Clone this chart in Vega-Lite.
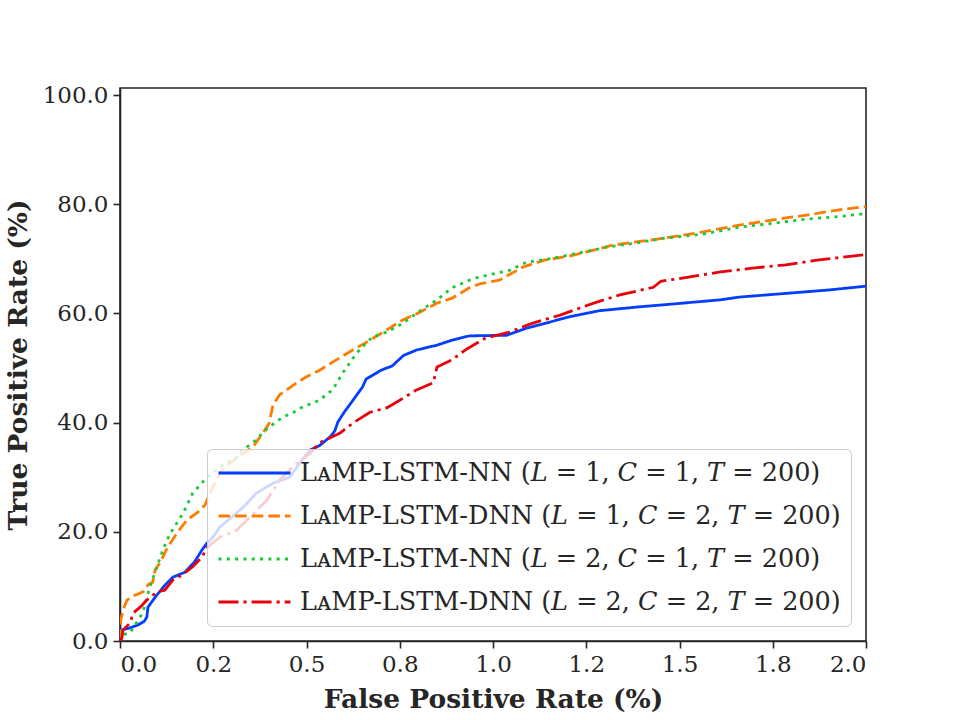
{
  "$schema": "https://vega.github.io/schema/vega-lite/v6.json",
  "width": 746,
  "height": 553,
  "autosize": {"type": "none"},
  "padding": {"left": 120, "top": 88, "right": 94, "bottom": 79},
  "background": "white",
  "config": {
    "font": "DejaVu Serif",
    "view": {"stroke": "#262626", "strokeWidth": 1.6},
    "axis": {
      "grid": false,
      "domainColor": "#262626",
      "domainWidth": 1.6,
      "tickColor": "#262626",
      "tickWidth": 1.6,
      "tickSize": 7,
      "labelFont": "DejaVu Serif",
      "labelFontSize": 23,
      "labelColor": "#262626",
      "labelPadding": 5,
      "titleFont": "DejaVu Serif",
      "titleFontSize": 26.5,
      "titleFontWeight": "bold",
      "titleColor": "#262626"
    },
    "legend": {
      "orient": "bottom-right",
      "offset": 15,
      "fillColor": "rgba(255,255,255,0.8)",
      "strokeColor": "#cccccc",
      "cornerRadius": 5,
      "padding": 10,
      "symbolType": "stroke",
      "symbolSize": 5184,
      "symbolStrokeWidth": 2.8,
      "clipHeight": 28,
      "labelFont": "DejaVu Serif",
      "labelFontSize": 25.5,
      "labelColor": "#262626",
      "labelOffset": 8,
      "labelLimit": 0,
      "rowPadding": 15
    }
  },
  "data": {
    "values": [
      {"model": "A", "fpr": 0, "tpr": 0},
      {"model": "A", "fpr": 0.003, "tpr": 2.0},
      {"model": "A", "fpr": 0.027, "tpr": 2.4},
      {"model": "A", "fpr": 0.05, "tpr": 3.0},
      {"model": "A", "fpr": 0.065, "tpr": 3.6},
      {"model": "A", "fpr": 0.072, "tpr": 4.4},
      {"model": "A", "fpr": 0.075, "tpr": 6.2},
      {"model": "A", "fpr": 0.094, "tpr": 8.0},
      {"model": "A", "fpr": 0.12, "tpr": 10.2},
      {"model": "A", "fpr": 0.142, "tpr": 11.7},
      {"model": "A", "fpr": 0.174, "tpr": 12.6},
      {"model": "A", "fpr": 0.2, "tpr": 14.5},
      {"model": "A", "fpr": 0.22, "tpr": 16.7},
      {"model": "A", "fpr": 0.233, "tpr": 17.9},
      {"model": "A", "fpr": 0.249, "tpr": 19.0},
      {"model": "A", "fpr": 0.268, "tpr": 20.9},
      {"model": "A", "fpr": 0.3, "tpr": 22.7},
      {"model": "A", "fpr": 0.33, "tpr": 24.5},
      {"model": "A", "fpr": 0.366, "tpr": 27.1},
      {"model": "A", "fpr": 0.41, "tpr": 28.9},
      {"model": "A", "fpr": 0.455, "tpr": 30.0},
      {"model": "A", "fpr": 0.482, "tpr": 32.6},
      {"model": "A", "fpr": 0.51, "tpr": 35.0},
      {"model": "A", "fpr": 0.535, "tpr": 35.8},
      {"model": "A", "fpr": 0.565, "tpr": 37.5},
      {"model": "A", "fpr": 0.576, "tpr": 38.5},
      {"model": "A", "fpr": 0.584, "tpr": 40.1},
      {"model": "A", "fpr": 0.6, "tpr": 41.8},
      {"model": "A", "fpr": 0.65, "tpr": 46.5},
      {"model": "A", "fpr": 0.66, "tpr": 48.0},
      {"model": "A", "fpr": 0.7, "tpr": 49.6},
      {"model": "A", "fpr": 0.73, "tpr": 50.4},
      {"model": "A", "fpr": 0.76, "tpr": 52.3},
      {"model": "A", "fpr": 0.795, "tpr": 53.3},
      {"model": "A", "fpr": 0.85, "tpr": 54.2},
      {"model": "A", "fpr": 0.89, "tpr": 55.1},
      {"model": "A", "fpr": 0.937, "tpr": 55.9},
      {"model": "A", "fpr": 1.036, "tpr": 56.0},
      {"model": "A", "fpr": 1.09, "tpr": 57.3},
      {"model": "A", "fpr": 1.14, "tpr": 58.2},
      {"model": "A", "fpr": 1.205, "tpr": 59.4},
      {"model": "A", "fpr": 1.285, "tpr": 60.5},
      {"model": "A", "fpr": 1.39, "tpr": 61.2},
      {"model": "A", "fpr": 1.46, "tpr": 61.6},
      {"model": "A", "fpr": 1.61, "tpr": 62.5},
      {"model": "A", "fpr": 1.66, "tpr": 63.0},
      {"model": "A", "fpr": 1.79, "tpr": 63.7},
      {"model": "A", "fpr": 1.9, "tpr": 64.3},
      {"model": "A", "fpr": 2.0, "tpr": 65.0},

      {"model": "B", "fpr": 0, "tpr": 0},
      {"model": "B", "fpr": 0.002, "tpr": 3.8},
      {"model": "B", "fpr": 0.008, "tpr": 5.7},
      {"model": "B", "fpr": 0.019, "tpr": 7.5},
      {"model": "B", "fpr": 0.04, "tpr": 8.4},
      {"model": "B", "fpr": 0.062, "tpr": 9.0},
      {"model": "B", "fpr": 0.075, "tpr": 10.3},
      {"model": "B", "fpr": 0.088, "tpr": 10.8},
      {"model": "B", "fpr": 0.094, "tpr": 13.0},
      {"model": "B", "fpr": 0.107, "tpr": 14.3},
      {"model": "B", "fpr": 0.128, "tpr": 17.2},
      {"model": "B", "fpr": 0.153, "tpr": 19.8},
      {"model": "B", "fpr": 0.18, "tpr": 22.2},
      {"model": "B", "fpr": 0.209, "tpr": 23.6},
      {"model": "B", "fpr": 0.228, "tpr": 24.9},
      {"model": "B", "fpr": 0.241, "tpr": 27.1},
      {"model": "B", "fpr": 0.268, "tpr": 30.8},
      {"model": "B", "fpr": 0.295, "tpr": 32.6},
      {"model": "B", "fpr": 0.33, "tpr": 34.4},
      {"model": "B", "fpr": 0.356, "tpr": 35.5},
      {"model": "B", "fpr": 0.383, "tpr": 38.1},
      {"model": "B", "fpr": 0.4, "tpr": 39.9},
      {"model": "B", "fpr": 0.41, "tpr": 43.2},
      {"model": "B", "fpr": 0.428, "tpr": 45.1},
      {"model": "B", "fpr": 0.474, "tpr": 47.3},
      {"model": "B", "fpr": 0.5, "tpr": 48.4},
      {"model": "B", "fpr": 0.535, "tpr": 49.6},
      {"model": "B", "fpr": 0.58, "tpr": 51.5},
      {"model": "B", "fpr": 0.624, "tpr": 53.3},
      {"model": "B", "fpr": 0.67, "tpr": 55.1},
      {"model": "B", "fpr": 0.715, "tpr": 57.0},
      {"model": "B", "fpr": 0.758, "tpr": 58.8},
      {"model": "B", "fpr": 0.8, "tpr": 60.1},
      {"model": "B", "fpr": 0.85, "tpr": 61.9},
      {"model": "B", "fpr": 0.89, "tpr": 62.8},
      {"model": "B", "fpr": 0.937, "tpr": 64.7},
      {"model": "B", "fpr": 0.964, "tpr": 65.4},
      {"model": "B", "fpr": 1.017, "tpr": 66.1},
      {"model": "B", "fpr": 1.08, "tpr": 68.5},
      {"model": "B", "fpr": 1.14, "tpr": 69.8},
      {"model": "B", "fpr": 1.205, "tpr": 70.5},
      {"model": "B", "fpr": 1.27, "tpr": 71.6},
      {"model": "B", "fpr": 1.32, "tpr": 72.5},
      {"model": "B", "fpr": 1.384, "tpr": 73.1},
      {"model": "B", "fpr": 1.46, "tpr": 73.8},
      {"model": "B", "fpr": 1.56, "tpr": 74.9},
      {"model": "B", "fpr": 1.66, "tpr": 76.2},
      {"model": "B", "fpr": 1.785, "tpr": 77.5},
      {"model": "B", "fpr": 1.84, "tpr": 78.0},
      {"model": "B", "fpr": 1.92, "tpr": 78.9},
      {"model": "B", "fpr": 2.0, "tpr": 79.6},

      {"model": "C", "fpr": 0, "tpr": 0},
      {"model": "C", "fpr": 0.005, "tpr": 1.1},
      {"model": "C", "fpr": 0.027, "tpr": 1.5},
      {"model": "C", "fpr": 0.04, "tpr": 2.9},
      {"model": "C", "fpr": 0.054, "tpr": 4.4},
      {"model": "C", "fpr": 0.062, "tpr": 5.4},
      {"model": "C", "fpr": 0.072, "tpr": 8.0},
      {"model": "C", "fpr": 0.08, "tpr": 9.9},
      {"model": "C", "fpr": 0.094, "tpr": 12.6},
      {"model": "C", "fpr": 0.112, "tpr": 16.1},
      {"model": "C", "fpr": 0.126, "tpr": 18.5},
      {"model": "C", "fpr": 0.142, "tpr": 20.5},
      {"model": "C", "fpr": 0.169, "tpr": 23.4},
      {"model": "C", "fpr": 0.195, "tpr": 27.1},
      {"model": "C", "fpr": 0.214, "tpr": 28.5},
      {"model": "C", "fpr": 0.233, "tpr": 30.0},
      {"model": "C", "fpr": 0.25, "tpr": 30.8},
      {"model": "C", "fpr": 0.268, "tpr": 31.9},
      {"model": "C", "fpr": 0.313, "tpr": 33.7},
      {"model": "C", "fpr": 0.32, "tpr": 34.6},
      {"model": "C", "fpr": 0.356, "tpr": 36.3},
      {"model": "C", "fpr": 0.394, "tpr": 38.9},
      {"model": "C", "fpr": 0.436, "tpr": 41.0},
      {"model": "C", "fpr": 0.463, "tpr": 41.8},
      {"model": "C", "fpr": 0.49, "tpr": 42.9},
      {"model": "C", "fpr": 0.535, "tpr": 44.1},
      {"model": "C", "fpr": 0.554, "tpr": 45.2},
      {"model": "C", "fpr": 0.57, "tpr": 46.0},
      {"model": "C", "fpr": 0.597, "tpr": 49.1},
      {"model": "C", "fpr": 0.634, "tpr": 52.7},
      {"model": "C", "fpr": 0.66, "tpr": 54.6},
      {"model": "C", "fpr": 0.677, "tpr": 55.7},
      {"model": "C", "fpr": 0.715, "tpr": 56.6},
      {"model": "C", "fpr": 0.758, "tpr": 58.2},
      {"model": "C", "fpr": 0.8, "tpr": 60.3},
      {"model": "C", "fpr": 0.85, "tpr": 62.5},
      {"model": "C", "fpr": 0.89, "tpr": 64.7},
      {"model": "C", "fpr": 0.937, "tpr": 66.1},
      {"model": "C", "fpr": 0.964, "tpr": 66.7},
      {"model": "C", "fpr": 1.044, "tpr": 67.9},
      {"model": "C", "fpr": 1.09, "tpr": 69.4},
      {"model": "C", "fpr": 1.16, "tpr": 70.1},
      {"model": "C", "fpr": 1.23, "tpr": 71.1},
      {"model": "C", "fpr": 1.31, "tpr": 72.2},
      {"model": "C", "fpr": 1.384, "tpr": 72.9},
      {"model": "C", "fpr": 1.46, "tpr": 73.8},
      {"model": "C", "fpr": 1.56, "tpr": 74.5},
      {"model": "C", "fpr": 1.66, "tpr": 75.8},
      {"model": "C", "fpr": 1.785, "tpr": 76.8},
      {"model": "C", "fpr": 1.84, "tpr": 77.3},
      {"model": "C", "fpr": 1.92, "tpr": 77.7},
      {"model": "C", "fpr": 2.0, "tpr": 78.3},

      {"model": "D", "fpr": 0, "tpr": 0},
      {"model": "D", "fpr": 0.005, "tpr": 0.5},
      {"model": "D", "fpr": 0.008, "tpr": 2.0},
      {"model": "D", "fpr": 0.027, "tpr": 3.3},
      {"model": "D", "fpr": 0.035, "tpr": 5.1},
      {"model": "D", "fpr": 0.054, "tpr": 6.2},
      {"model": "D", "fpr": 0.072, "tpr": 7.5},
      {"model": "D", "fpr": 0.099, "tpr": 9.0},
      {"model": "D", "fpr": 0.12, "tpr": 9.3},
      {"model": "D", "fpr": 0.142, "tpr": 11.2},
      {"model": "D", "fpr": 0.166, "tpr": 12.1},
      {"model": "D", "fpr": 0.195, "tpr": 13.6},
      {"model": "D", "fpr": 0.22, "tpr": 15.4},
      {"model": "D", "fpr": 0.233, "tpr": 17.1},
      {"model": "D", "fpr": 0.268, "tpr": 19.0},
      {"model": "D", "fpr": 0.313, "tpr": 20.3},
      {"model": "D", "fpr": 0.348, "tpr": 22.7},
      {"model": "D", "fpr": 0.394, "tpr": 25.8},
      {"model": "D", "fpr": 0.428, "tpr": 29.5},
      {"model": "D", "fpr": 0.463, "tpr": 31.9},
      {"model": "D", "fpr": 0.51, "tpr": 34.4},
      {"model": "D", "fpr": 0.535, "tpr": 36.3},
      {"model": "D", "fpr": 0.59, "tpr": 38.1},
      {"model": "D", "fpr": 0.624, "tpr": 39.9},
      {"model": "D", "fpr": 0.67, "tpr": 41.9},
      {"model": "D", "fpr": 0.715, "tpr": 42.7},
      {"model": "D", "fpr": 0.75, "tpr": 44.1},
      {"model": "D", "fpr": 0.795, "tpr": 46.0},
      {"model": "D", "fpr": 0.84, "tpr": 47.3},
      {"model": "D", "fpr": 0.85, "tpr": 50.2},
      {"model": "D", "fpr": 0.89, "tpr": 51.5},
      {"model": "D", "fpr": 0.93, "tpr": 53.5},
      {"model": "D", "fpr": 0.98, "tpr": 55.5},
      {"model": "D", "fpr": 1.044, "tpr": 56.6},
      {"model": "D", "fpr": 1.105, "tpr": 58.2},
      {"model": "D", "fpr": 1.18, "tpr": 59.7},
      {"model": "D", "fpr": 1.27, "tpr": 61.9},
      {"model": "D", "fpr": 1.34, "tpr": 63.4},
      {"model": "D", "fpr": 1.43, "tpr": 64.8},
      {"model": "D", "fpr": 1.45, "tpr": 65.9},
      {"model": "D", "fpr": 1.52, "tpr": 66.6},
      {"model": "D", "fpr": 1.61, "tpr": 67.6},
      {"model": "D", "fpr": 1.695, "tpr": 68.3},
      {"model": "D", "fpr": 1.785, "tpr": 68.9},
      {"model": "D", "fpr": 1.874, "tpr": 69.8},
      {"model": "D", "fpr": 2.0, "tpr": 70.8}
    ]
  },
  "transform": [
    {"lookup": "model", "from": {"data": {"values": [
      {"model": "A", "label": "LᴀMP-LSTM-NN (𝐿 = 1, 𝐶 = 1, 𝑇 = 200)"},
      {"model": "B", "label": "LᴀMP-LSTM-DNN (𝐿 = 1, 𝐶 = 2, 𝑇 = 200)"},
      {"model": "C", "label": "LᴀMP-LSTM-NN (𝐿 = 2, 𝐶 = 1, 𝑇 = 200)"},
      {"model": "D", "label": "LᴀMP-LSTM-DNN (𝐿 = 2, 𝐶 = 2, 𝑇 = 200)"}
    ]}, "key": "model", "fields": ["label"]}}
  ],
  "mark": {"type": "line", "strokeWidth": 2.8, "clip": true},
  "encoding": {
    "x": {
      "field": "fpr",
      "type": "quantitative",
      "scale": {"domain": [0, 2], "nice": false, "zero": false},
      "axis": {
        "title": "False Positive Rate (%)",
        "values": [0, 0.25, 0.5, 0.75, 1, 1.25, 1.5, 1.75, 2],
        "labelExpr": "datum.value == 0.25 ? '0.2' : datum.value == 1.25 ? '1.2' : format(datum.value, '.1f')",
        "titlePadding": 10
      }
    },
    "y": {
      "field": "tpr",
      "type": "quantitative",
      "scale": {"domain": [0, 101.3], "nice": false},
      "axis": {
        "title": "True Positive Rate (%)",
        "values": [0, 20, 40, 60, 80, 100],
        "format": ".1f",
        "titlePadding": 10
      }
    },
    "color": {
      "field": "label",
      "type": "nominal",
      "scale": {
        "domain": [
          "LᴀMP-LSTM-NN (𝐿 = 1, 𝐶 = 1, 𝑇 = 200)",
          "LᴀMP-LSTM-DNN (𝐿 = 1, 𝐶 = 2, 𝑇 = 200)",
          "LᴀMP-LSTM-NN (𝐿 = 2, 𝐶 = 1, 𝑇 = 200)",
          "LᴀMP-LSTM-DNN (𝐿 = 2, 𝐶 = 2, 𝑇 = 200)"
        ],
        "range": ["#023EFF", "#FF7C00", "#1AC938", "#E8000B"]
      },
      "legend": {"title": null}
    },
    "strokeDash": {
      "field": "label",
      "type": "nominal",
      "scale": {
        "domain": [
          "LᴀMP-LSTM-NN (𝐿 = 1, 𝐶 = 1, 𝑇 = 200)",
          "LᴀMP-LSTM-DNN (𝐿 = 1, 𝐶 = 2, 𝑇 = 200)",
          "LᴀMP-LSTM-NN (𝐿 = 2, 𝐶 = 1, 𝑇 = 200)",
          "LᴀMP-LSTM-DNN (𝐿 = 2, 𝐶 = 2, 𝑇 = 200)"
        ],
        "range": [[1, 0], [11.6, 5], [3.1, 5.2], [20, 5, 3.1, 5]]
      },
      "legend": {"title": null}
    }
  }
}
